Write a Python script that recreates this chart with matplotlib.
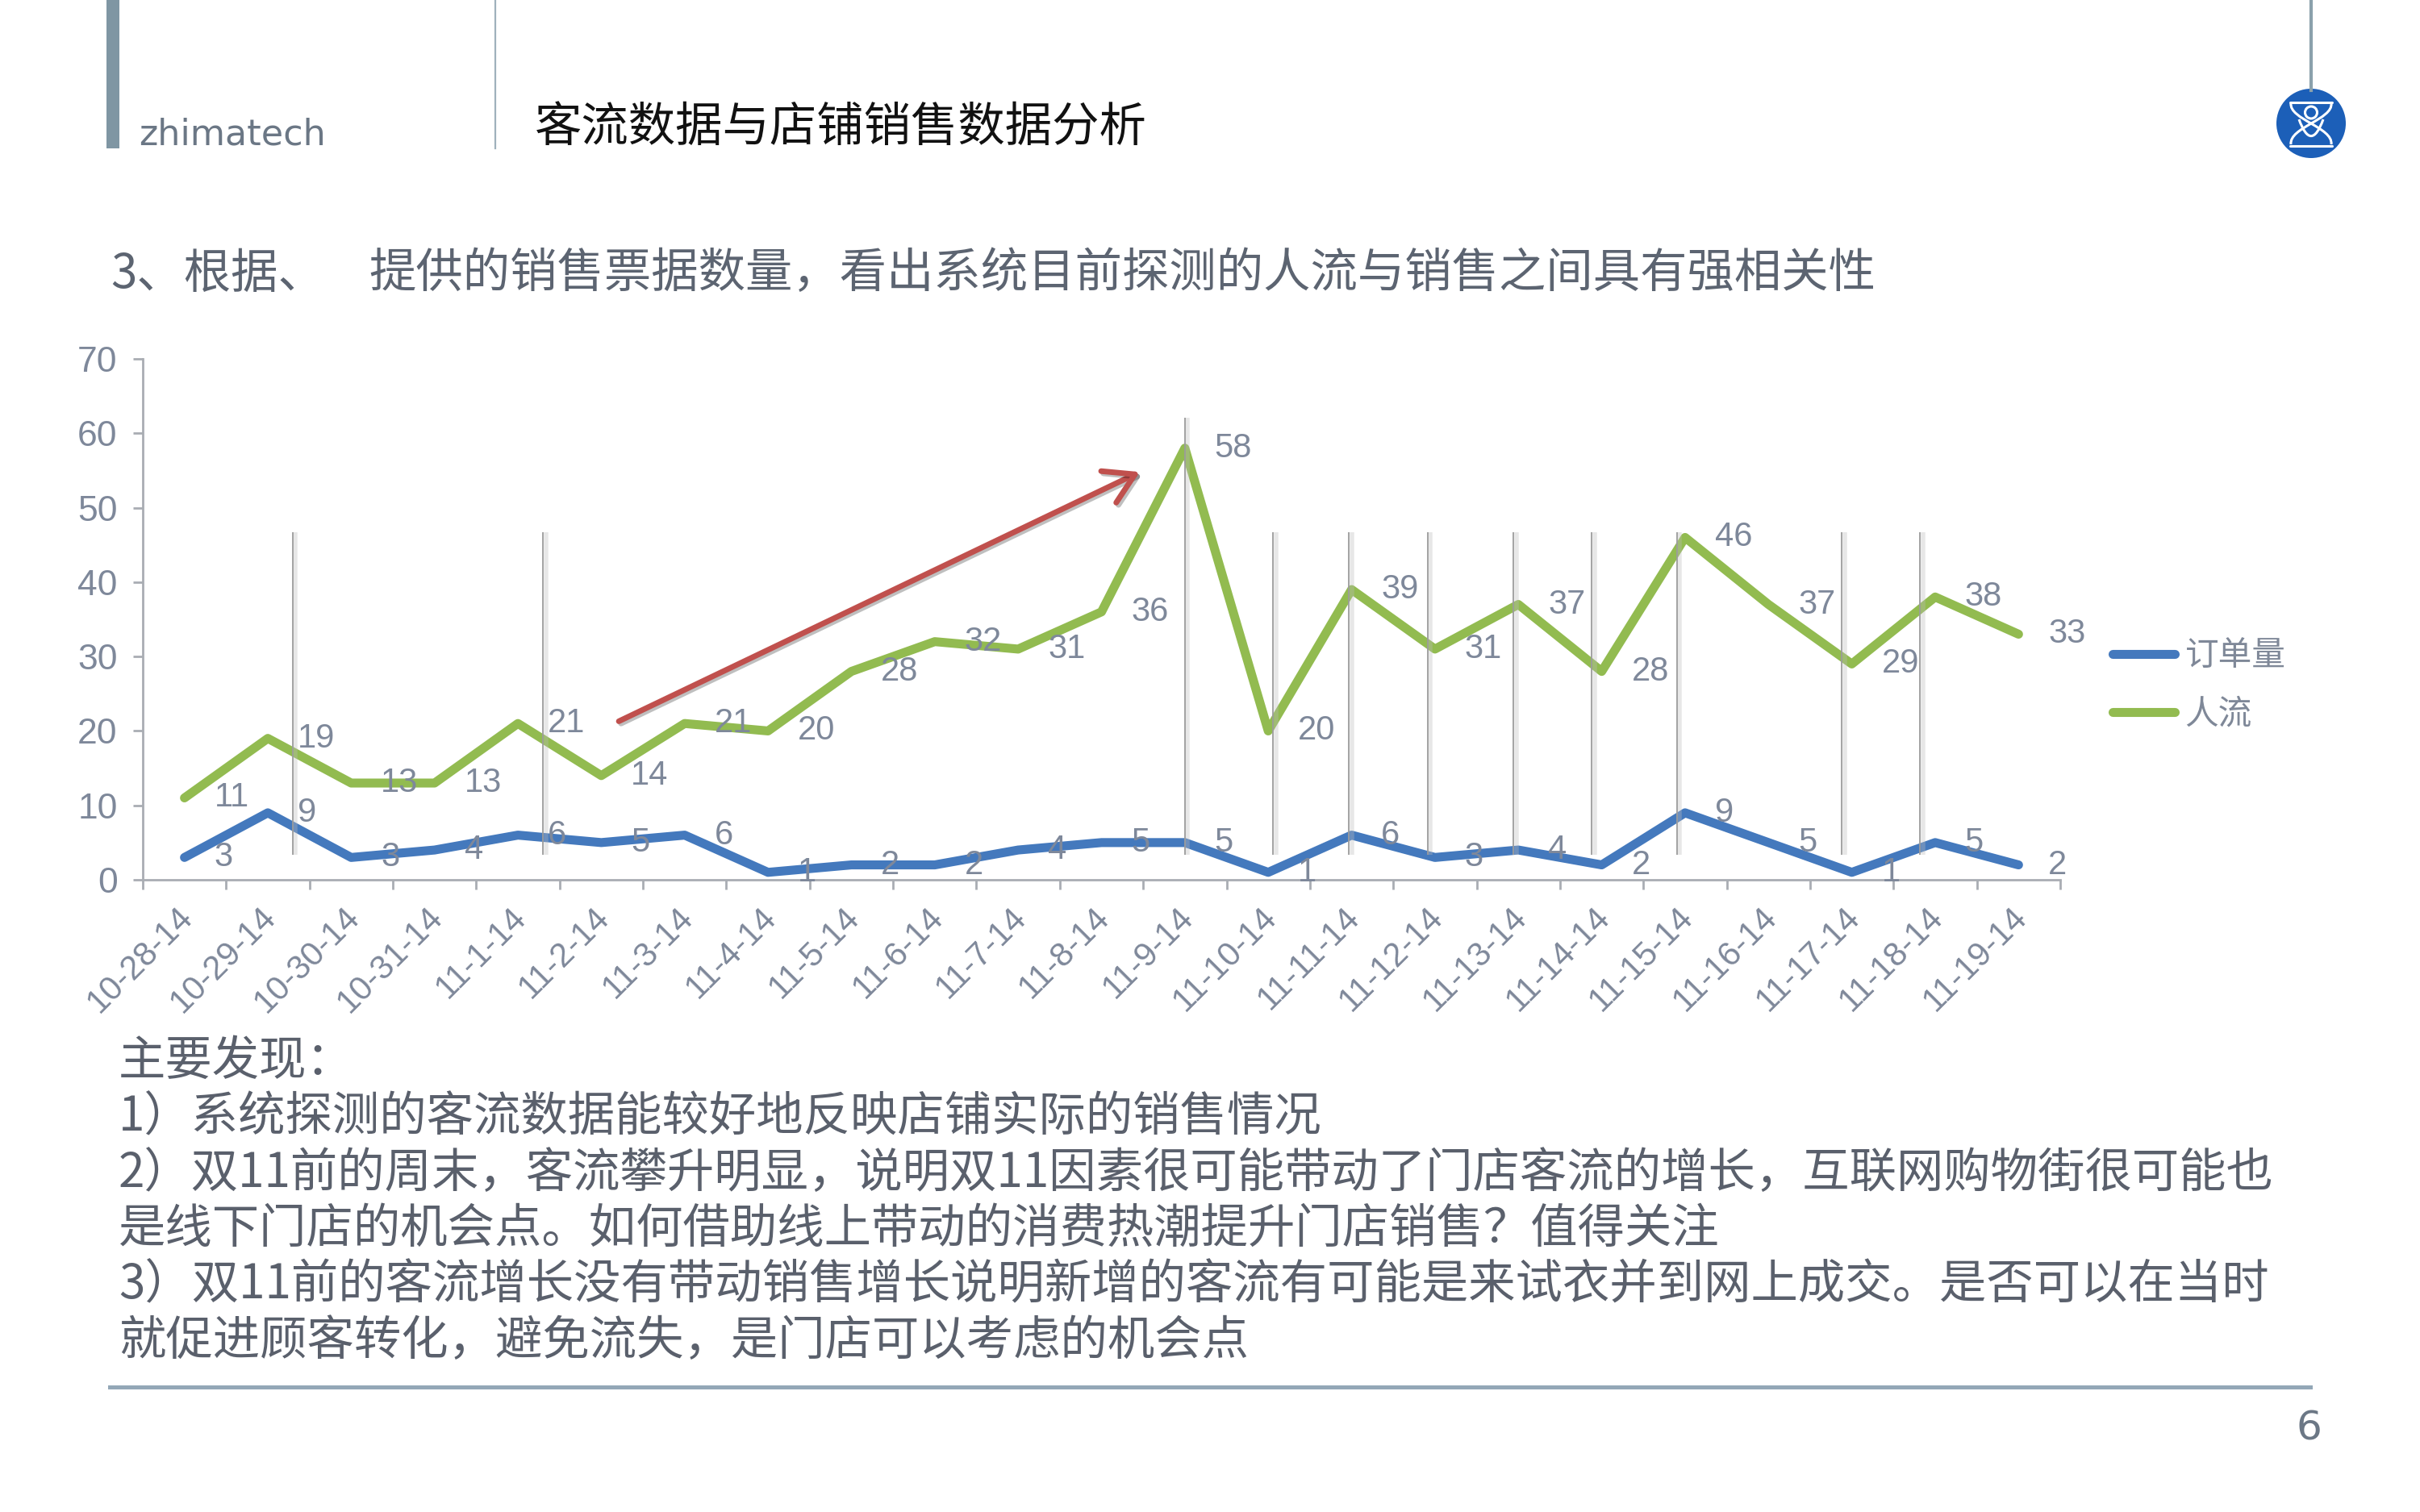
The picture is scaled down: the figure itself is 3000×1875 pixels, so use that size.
import matplotlib
matplotlib.use("Agg")
import matplotlib.pyplot as plt
import matplotlib.patheffects as pe
from matplotlib.lines import Line2D
from matplotlib.patches import Circle, Rectangle, PathPatch
from matplotlib.path import Path
from matplotlib.font_manager import FontProperties
from matplotlib.transforms import ScaledTranslation
import numpy as np

# ---------------- data ----------------
dates = ["10-28-14", "10-29-14", "10-30-14", "10-31-14", "11-1-14", "11-2-14",
         "11-3-14", "11-4-14", "11-5-14", "11-6-14", "11-7-14", "11-8-14",
         "11-9-14", "11-10-14", "11-11-14", "11-12-14", "11-13-14", "11-14-14",
         "11-15-14", "11-16-14", "11-17-14", "11-18-14", "11-19-14"]
orders = [3, 9, 3, 4, 6, 5, 6, 1, 2, 2, 4, 5, 5, 1, 6, 3, 4, 2, 9, 5, 1, 5, 2]
traffic = [11, 19, 13, 13, 21, 14, 21, 20, 28, 32, 31, 36, 58, 20, 39, 31, 37, 28,
           46, 37, 29, 38, 33]
series_names = ["订单量", "人流"]
yticks = [0, 10, 20, 30, 40, 50, 60, 70]

# hand-drawn separator lines on the slide (category position, top value)
sep_x = [1.30, 4.30, 12.0, 13.06, 13.97, 14.91, 15.94, 16.88, 17.90, 19.88, 20.82]
sep_top = [46.7, 46.7, 62.1, 46.7, 46.7, 46.7, 46.7, 46.7, 46.7, 46.7, 46.7]
sep_bottom = 3.4

header_brand = "zhimatech"
title = "客流数据与店铺销售数据分析"
subtitle_a = "3、根据、"
subtitle_b = "提供的销售票据数量，看出系统目前探测的人流与销售之间具有强相关性"
findings = [
    "主要发现：",
    "1）系统探测的客流数据能较好地反映店铺实际的销售情况",
    "2）双11前的周末，客流攀升明显，说明双11因素很可能带动了门店客流的增长，互联网购物街很可能也",
    "是线下门店的机会点。如何借助线上带动的消费热潮提升门店销售？值得关注",
    "3）双11前的客流增长没有带动销售增长说明新增的客流有可能是来试衣并到网上成交。是否可以在当时",
    "就促进顾客转化，避免流失，是门店可以考虑的机会点",
]
page_no = "6"

# ---------------- style ----------------
plt.rcParams["font.family"] = ["Liberation Sans", "Noto Sans CJK SC", "DejaVu Sans"]
CJK = ["Noto Sans CJK SC", "DejaVu Sans"]
BLUE = "#4479bd"
GREEN = "#92bb50"
RED = "#c0504d"
LABEL = "#7e889a"
AXIS = "#a9adb3"
TEXT = "#5a606c"

W, H = 3000, 1875
def fx(px): return px / W
def fy(py): return 1 - py / H

fig = plt.figure(figsize=(30, 18.75), dpi=100)
fig.patch.set_facecolor("white")

# ---------------- header ----------------
fig.add_artist(Rectangle((fx(132), fy(184)), 16 / W, 184 / H, transform=fig.transFigure,
                         color="#7f96a3", lw=0))
fig.add_artist(Line2D([fx(614), fx(614)], [fy(0), fy(184)], transform=fig.transFigure,
                      color="#9fb1bc", lw=1.6))
fig.text(fx(172), fy(180), header_brand, fontsize=32, color="#6b7785",
         family="DejaVu Sans", ha="left", va="baseline")
fig.text(fx(663), fy(158), title, fontsize=42, color="#111111", family=CJK,
         ha="left", va="center")
# logo
fig.add_artist(Line2D([fx(2865), fx(2865)], [fy(0), fy(112)], transform=fig.transFigure,
                      color="#8ba1ac", lw=3))
lax = fig.add_axes([fx(2815), fy(203), 100 / W, 100 / H])
lax.set_xlim(-1, 1); lax.set_ylim(-1, 1); lax.axis("off")
lax.add_patch(Circle((0, 0), 0.86, color="#1c5fb8", lw=0))
wl = dict(color="white", lw=2.2, solid_capstyle="round")
lax.plot([-0.52, 0.52], [0.53, 0.53], **wl)
lax.plot([-0.52, 0.52], [-0.55, -0.55], **wl)
for s in (1, -1):
    p = Path([(-0.5 * s, 0.5), (-0.55 * s, 0.1), (0.55 * s, -0.1), (0.5 * s, -0.52)],
             [Path.MOVETO, Path.CURVE4, Path.CURVE4, Path.CURVE4])
    lax.add_patch(PathPatch(p, fill=False, ec="white", lw=2.2))
lax.add_patch(Circle((0, 0.27), 0.15, fill=False, ec="white", lw=2.2))
pv = Path([(-0.3, 0.1), (-0.1, -0.45), (0.1, -0.45), (0.3, 0.1)],
          [Path.MOVETO, Path.CURVE4, Path.CURVE4, Path.CURVE4])
lax.add_patch(PathPatch(pv, fill=False, ec="white", lw=2.2))

# subtitle
fig.text(fx(137), fy(340), subtitle_a, fontsize=42, color="#5c6471", family=CJK,
         ha="left", va="center")
fig.text(fx(457), fy(340), subtitle_b, fontsize=42, color="#5c6471", family=CJK,
         ha="left", va="center")

# ---------------- chart ----------------
ax = fig.add_axes([fx(177), fy(1091), (2554 - 177) / W, (1091 - 445) / H])
ax.set_xlim(-0.5, len(dates) - 0.5)
ax.set_ylim(0, 70)
for sp in ("top", "right"):
    ax.spines[sp].set_visible(False)
for sp in ("left", "bottom"):
    ax.spines[sp].set_color(AXIS)
    ax.spines[sp].set_linewidth(2)

x = np.arange(len(dates))
l1, = ax.plot(x, orders, color=BLUE, lw=8, solid_capstyle="round",
              solid_joinstyle="round", zorder=3, label=series_names[0])
l2, = ax.plot(x, traffic, color=GREEN, lw=8, solid_capstyle="round",
              solid_joinstyle="round", zorder=3, label=series_names[1])

ax.vlines(sep_x, sep_bottom, sep_top, colors="#9c9c9c", lw=1.3, zorder=4,
          path_effects=[pe.SimpleLineShadow(offset=(2.5, 0), shadow_color="#bdbdbd",
                                            alpha=0.35, linewidth=4), pe.Normal()])

for series in (orders, traffic):
    for i, v in enumerate(series):
        ax.annotate(str(v), (i, v), xytext=(26.5, 0), textcoords="offset points",
                    ha="left", va="center", fontsize=30, color=LABEL, zorder=5)

ax.annotate("", xy=(11.46, 54.8), xytext=(5.21, 21.3),
            arrowprops=dict(arrowstyle="->,head_length=1.0,head_width=0.6",
                            color=RED, lw=5, mutation_scale=26, shrinkA=0, shrinkB=0,
                            path_effects=[pe.SimpleLineShadow(offset=(2, -2), alpha=0.25),
                                          pe.Normal()]),
            zorder=6)

ax.set_yticks(yticks)
ax.tick_params(axis="y", direction="out", length=8.5, width=2, color=AXIS,
               labelsize=32, labelcolor=LABEL, pad=14)
ax.set_xticks(x)
ax.set_xticklabels(dates, rotation=45, ha="right", rotation_mode="anchor")
ax.set_xticks(np.arange(-0.5, len(dates)), minor=True)
ax.tick_params(axis="x", which="major", length=0, labelsize=30, labelcolor=LABEL, pad=19)
ax.tick_params(axis="x", which="minor", direction="out", length=8.5, width=2, color=AXIS)
shift = ScaledTranslation(-10 / 100, 0, fig.dpi_scale_trans)
for lab in ax.get_xticklabels():
    lab.set_transform(lab.get_transform() + shift)

leg = ax.legend(handles=[l1, l2], loc="center left",
                bbox_to_anchor=(fx(2619), fy(850)), bbox_transform=fig.transFigure,
                frameon=False, prop=FontProperties(family=CJK, size=30),
                handlelength=1.85, handletextpad=0.3, labelspacing=0.76,
                borderpad=0, borderaxespad=0, labelcolor="#7f8898")

# ---------------- findings ----------------
for k, line in enumerate(findings):
    fig.text(fx(147), fy(1316 + k * 69.6), line, fontsize=42, color=TEXT, family=CJK,
             ha="left", va="center")

fig.add_artist(Line2D([fx(136), fx(2864)], [fy(1720), fy(1720)], transform=fig.transFigure,
                      color="#93a7b7", lw=3.6))
fig.text(fx(2862), fy(1772), page_no, fontsize=36, color="#6b7785",
         family="DejaVu Sans", ha="center", va="center")

fig.savefig("out.png", dpi=100, facecolor="white")
